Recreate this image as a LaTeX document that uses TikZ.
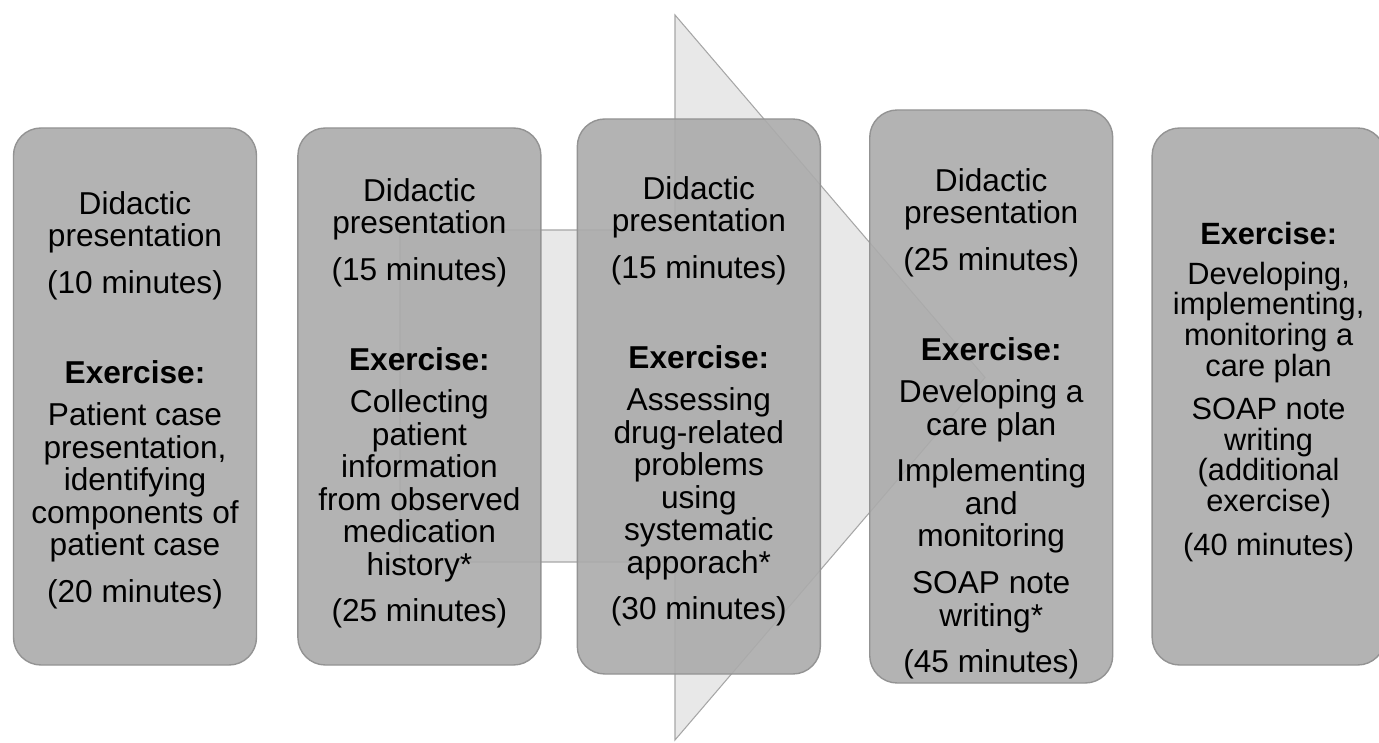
\documentclass[tikz,border=0pt]{standalone}
\usepackage{fontspec}
\setmainfont{Liberation Sans}
\usetikzlibrary{positioning}

\begin{document}
\begin{tikzpicture}[font=\fontsize{18}{18.5}\selectfont,
  card/.style={draw=gray!85,line width=0.8pt,fill=gray!66,fill opacity=0.9,
    rounded corners=5.5mm,minimum width=4.86cm,inner sep=0pt},
  txt/.style={align=center,inner sep=0pt,text=black},
  flow/.style={draw=gray!70,line width=0.6pt,fill=gray!18}]

  \useasboundingbox (0,0) rectangle (27.58,14.84);

  % --- background arrow ---
  \draw[flow] (8.00,10.24) -- (13.50,10.24) -- (13.50,14.54) -- (19.70,7.29)
    -- (13.50,0.04) -- (13.50,3.60) -- (8.00,3.60) -- cycle;

  % --- session boxes ---
  \node[card,minimum height=10.74cm] (b1) at (2.70,6.91) {};
  \node[card,minimum height=10.74cm,right=0.80cm of b1] (b2) {};
  \node[card,minimum height=11.10cm,right=0.70cm of b2] (b3) {};
  \node[card,minimum height=11.46cm,right=0.96cm of b3] (b4) {};
  \node[card,minimum height=10.74cm,minimum width=4.66cm,right=0.76cm of b4] (b5) {};

  % --- box texts ---
  \node[txt,below=1.27cm of b1.north] (t1) {Didactic\\presentation\\[8pt](10 minutes)\\[33pt]
    \textbf{Exercise:}\\[5.5pt]Patient case\\presentation,\\identifying\\components of\\patient case\\[8pt](20 minutes)};
  \node[txt,below=1.01cm of b2.north] (t2) {Didactic\\presentation\\[8pt](15 minutes)\\[33pt]
    \textbf{Exercise:}\\[5.5pt]Collecting\\patient\\information\\from observed\\medication\\history*\\[8pt](25 minutes)};
  \node[txt,below=1.15cm of b3.north] (t3) {Didactic\\presentation\\[8pt](15 minutes)\\[33pt]
    \textbf{Exercise:}\\[5.5pt]Assessing\\drug-related\\problems\\using\\systematic\\apporach*\\[8pt](30 minutes)};
  \node[txt,below=1.17cm of b4.north] (t4) {Didactic\\presentation\\[8pt](25 minutes)\\[33pt]
    \textbf{Exercise:}\\[5.5pt]Developing a\\care plan\\[8pt]Implementing\\and\\monitoring\\[8pt]SOAP note\\writing*\\[8pt](45 minutes)};
  \node[txt,font=\fontsize{17.5}{17.4}\selectfont,below=1.9cm of b5.north] (t5) {\textbf{Exercise:}\\[5pt]Developing,\\implementing,\\monitoring a\\care plan\\[7.5pt]SOAP note\\writing\\(additional\\exercise)\\[7.5pt](40 minutes)};
\end{tikzpicture}
\end{document}
